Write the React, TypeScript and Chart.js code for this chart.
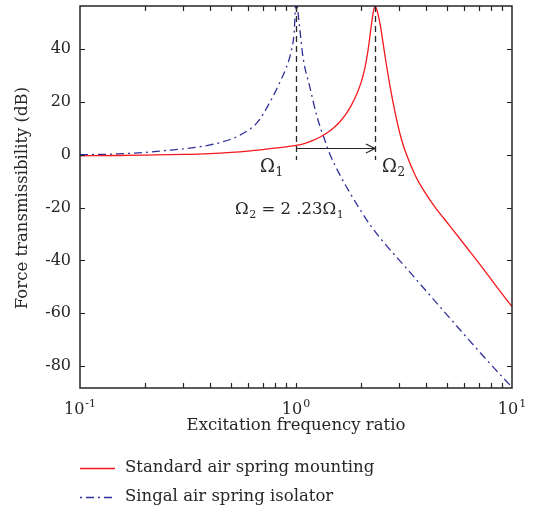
import { useEffect, useRef } from 'react';
import { Chart, registerables } from 'chart.js';

Chart.register(...registerables);

// ---- data ----
const standardFreq = [0.1, 0.15, 0.2, 0.3, 0.4, 0.5, 0.6, 0.7, 0.8, 0.9, 1.0, 1.1, 1.2, 1.3, 1.4, 1.5, 1.6, 1.7, 1.8, 1.9, 2.0, 2.08, 2.15, 2.2, 2.25, 2.29, 2.32, 2.36, 2.4, 2.45, 2.49, 2.56, 2.63, 2.71, 2.8, 2.92, 3.05, 3.2, 3.4, 3.6, 3.9, 4.4, 5.14, 6.2, 7.1, 8.5, 10];
const standardDb = [-0.4, -0.3, -0.15, 0.1, 0.45, 0.9, 1.4, 1.95, 2.5, 3.0, 3.5, 4.3, 5.4, 6.8, 8.4, 10.3, 12.6, 15.3, 18.6, 22.5, 27.3, 32.5, 39, 45, 51, 54.8, 56, 55.3, 53, 49.5, 46, 39.5, 33.3, 27, 20.7, 13.5, 7, 1.5, -4, -8.5, -13.5, -19.8, -26.8, -35.3, -41.5, -50, -57.5];

const singleFreq = [0.1, 0.15, 0.2, 0.25, 0.3, 0.35, 0.4, 0.45, 0.5, 0.55, 0.6, 0.65, 0.7, 0.75, 0.8, 0.85, 0.9, 0.95, 0.98, 1.0, 1.043, 1.077, 1.16, 1.25, 1.36, 1.43, 1.6, 1.84, 2.2, 2.63, 3.25, 4.0, 5.0, 6.3, 8.0, 10];
const singleDb = [0, 0.3, 0.9, 1.6, 2.2, 2.9, 3.7, 4.7, 5.9, 7.4, 9.2, 11.5, 15, 19.3, 23.6, 28.2, 32.8, 39.2, 46, 58, 47, 37, 25.5, 14.5, 5.5, 0.5, -7.8, -16.5, -26.5, -34.5, -43, -51.5, -60.6, -70, -79.5, -88];

const seriesNames = ['Standard air spring mounting', 'Singal air spring isolator'];

const xMin = 0.1;
const xMax = 10;
const yMin = -88.3;
const yMax = 56.3;
const yTicks = [-80, -60, -40, -20, 0, 20, 40];
const xMajorTicks = [0.1, 1, 10];
const xMajorExponents = ['-1', '0', '1'];

// annotation values (data space)
const resonanceFreqs = [1.0, 2.32];
const guideBottomDb = -2.0;
const arrowDb = 2.6;
const omega1Label = { x: 0.681, y: -6.5 };
const omega2Label = { x: 2.5, y: -6.5 };
const ratioLabel = { x: 0.522, y: -22.4 };
const ratioText = ' = 2 .23Ω';

const RED = '#f5191c';
const BLUE = '#30309a';
const INK = '#262626';
const SERIF = '"DejaVu Serif", "Liberation Serif", serif';
const BLUE_DASH = [8, 4, 2, 4];

function drawSub(ctx: CanvasRenderingContext2D, x: number, y: number, main: string, sub: string, size: number) {
  ctx.font = `${size}px ${SERIF}`;
  ctx.fillText(main, x, y);
  const w = ctx.measureText(main).width;
  ctx.font = `${Math.round(size * 0.68)}px ${SERIF}`;
  ctx.fillText(sub, x + w + 0.5, y + size * 0.22);
  return w + 0.5 + ctx.measureText(sub).width;
}

const overlayPlugin = {
  id: 'overlay',
  afterDatasetsDraw(chart: any) {
    const { ctx, chartArea: a, scales } = chart;
    const x = scales.x;
    const y = scales.y;
    ctx.save();

    // dashed resonance guides
    ctx.strokeStyle = INK;
    ctx.lineWidth = 1.3;
    ctx.setLineDash([6, 4]);
    resonanceFreqs.forEach((f) => {
      const px = Math.round(x.getPixelForValue(f)) + 0.5;
      ctx.beginPath();
      ctx.moveTo(px, a.top);
      ctx.lineTo(px, y.getPixelForValue(guideBottomDb));
      ctx.stroke();
    });
    ctx.setLineDash([]);

    // arrow
    const ax0 = x.getPixelForValue(resonanceFreqs[0]);
    const ax1 = x.getPixelForValue(resonanceFreqs[1]);
    const ay = Math.round(y.getPixelForValue(arrowDb)) + 0.5;
    ctx.lineWidth = 1.2;
    ctx.beginPath();
    ctx.moveTo(ax0, ay);
    ctx.lineTo(ax1, ay);
    ctx.moveTo(ax1 - 9, ay - 4.5);
    ctx.lineTo(ax1, ay);
    ctx.lineTo(ax1 - 9, ay + 4.5);
    ctx.stroke();

    // frame
    ctx.strokeStyle = INK;
    ctx.lineWidth = 1.5;
    ctx.strokeRect(a.left, a.top, a.right - a.left, a.bottom - a.top);

    // inward ticks
    ctx.lineWidth = 1.2;
    ctx.beginPath();
    for (let d = 0.1; d < 10; d *= 10) {
      for (let m = 1; m <= 9; m++) {
        const v = d * m;
        if (v <= xMin * 1.0001 || v >= xMax * 0.9999) continue;
        const px = Math.round(x.getPixelForValue(v)) + 0.5;
        ctx.moveTo(px, a.bottom);
        ctx.lineTo(px, a.bottom - 5);
        ctx.moveTo(px, a.top);
        ctx.lineTo(px, a.top + 5);
      }
    }
    yTicks.forEach((v) => {
      const py = Math.round(y.getPixelForValue(v)) + 0.5;
      ctx.moveTo(a.left, py);
      ctx.lineTo(a.left + 5, py);
      ctx.moveTo(a.right, py);
      ctx.lineTo(a.right - 5, py);
    });
    ctx.stroke();

    // y tick labels
    ctx.fillStyle = INK;
    ctx.font = `16px ${SERIF}`;
    ctx.textAlign = 'right';
    ctx.textBaseline = 'middle';
    yTicks.forEach((v) => {
      ctx.fillText(String(v), a.left - 9, y.getPixelForValue(v));
    });

    // x tick labels with superscripts
    ctx.textAlign = 'left';
    ctx.textBaseline = 'alphabetic';
    xMajorTicks.forEach((v, i) => {
      ctx.font = `16px ${SERIF}`;
      const wb = ctx.measureText('10').width;
      ctx.font = `11px ${SERIF}`;
      const we = ctx.measureText(xMajorExponents[i]).width;
      const cx = x.getPixelForValue(v);
      const left = cx - (wb + we + 1) / 2;
      const base = a.bottom + 26;
      ctx.font = `16px ${SERIF}`;
      ctx.fillText('10', left, base);
      ctx.font = `11px ${SERIF}`;
      ctx.fillText(xMajorExponents[i], left + wb + 1, base - 7);
    });

    // axis titles
    ctx.font = `16.5px ${SERIF}`;
    ctx.textAlign = 'center';
    ctx.fillText('Excitation frequency ratio', (a.left + a.right) / 2, a.bottom + 42);
    ctx.save();
    ctx.translate(27, (a.top + a.bottom) / 2 + 1);
    ctx.rotate(-Math.PI / 2);
    ctx.fillText('Force transmissibility (dB)', 0, 0);
    ctx.restore();

    // Omega labels
    ctx.textAlign = 'left';
    drawSub(ctx, x.getPixelForValue(omega1Label.x), y.getPixelForValue(omega1Label.y), 'Ω', '1', 18);
    drawSub(ctx, x.getPixelForValue(omega2Label.x), y.getPixelForValue(omega2Label.y), 'Ω', '2', 18);
    const rx = x.getPixelForValue(ratioLabel.x);
    const ry = y.getPixelForValue(ratioLabel.y);
    const w1 = drawSub(ctx, rx, ry, 'Ω', '2', 16.5);
    drawSub(ctx, rx + w1, ry, ratioText, '1', 16.5);

    // legend
    const legendY = [468, 497];
    const colors = [RED, BLUE];
    const dashes = [[], [2, 4, 8, 4]];
    seriesNames.forEach((name, i) => {
      ctx.strokeStyle = colors[i];
      ctx.lineWidth = 1.3;
      ctx.setLineDash(dashes[i]);
      ctx.beginPath();
      ctx.moveTo(a.left, legendY[i] + 0.5);
      ctx.lineTo(a.left + 35, legendY[i] + 0.5);
      ctx.stroke();
      ctx.setLineDash([]);
      ctx.fillStyle = INK;
      ctx.font = `16.5px ${SERIF}`;
      ctx.textBaseline = 'middle';
      ctx.fillText(name, a.left + 45, legendY[i]);
    });

    ctx.restore();
  },
};

export default function App() {
  const ref = useRef<HTMLCanvasElement | null>(null);
  useEffect(() => {
    document.body.style.margin = '0';
    if (!ref.current) return;
    const chart = new Chart(ref.current, {
      type: 'line',
      data: {
        datasets: [
          {
            label: seriesNames[0],
            data: standardFreq.map((f, i) => ({ x: f, y: standardDb[i] })),
            borderColor: RED,
            borderWidth: 1.3,
            pointRadius: 0,
            cubicInterpolationMode: 'monotone',
            fill: false,
          },
          {
            label: seriesNames[1],
            data: singleFreq.map((f, i) => ({ x: f, y: singleDb[i] })),
            borderColor: BLUE,
            borderWidth: 1.3,
            borderDash: BLUE_DASH,
            pointRadius: 0,
            cubicInterpolationMode: 'monotone',
            fill: false,
          },
        ],
      },
      options: {
        animation: false,
        responsive: false,
        maintainAspectRatio: false,
        layout: { padding: { left: 80, right: 24, top: 6, bottom: 125 } },
        plugins: { legend: { display: false }, tooltip: { enabled: false } },
        events: [],
        scales: {
          x: { type: 'logarithmic', min: xMin, max: xMax, display: false },
          y: { type: 'linear', min: yMin, max: yMax, display: false },
        },
      },
      plugins: [overlayPlugin],
    } as any);
    return () => chart.destroy();
  }, []);
  return (
    <div style={{ width: 536, height: 513, background: '#fff' }}>
      <canvas ref={ref} width={536} height={513} style={{ display: 'block' }} />
    </div>
  );
}
